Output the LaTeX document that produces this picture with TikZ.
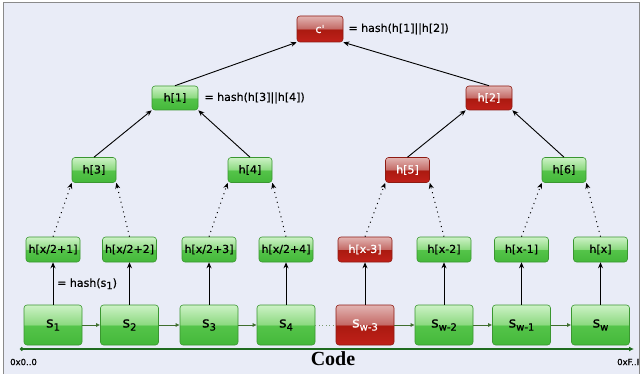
\documentclass[tikz,border=0pt]{standalone}
\usepackage{fontspec}
\setmainfont{DejaVu Sans}[FakeBold=0.6]
\newfontfamily\plainfont{DejaVu Sans}[FakeBold=0.6, Ligatures=TeXOff]
\newfontfamily\codefont{Liberation Serif}
\usetikzlibrary{arrows.meta}
\definecolor{bgcol}{HTML}{E9ECF7}
\definecolor{framecol}{HTML}{8A8A8A}
\definecolor{gbot}{HTML}{44B83A}
\definecolor{gmid}{HTML}{55C44A}
\definecolor{gtoplow}{HTML}{8CD980}
\definecolor{gtop}{HTML}{CDF2C6}
\definecolor{gborder}{HTML}{3A9630}
\definecolor{rbot}{HTML}{C0201A}
\definecolor{rmid}{HTML}{AA1A10}
\definecolor{rtoplow}{HTML}{C46A66}
\definecolor{rtop}{HTML}{E2B4B2}
\definecolor{rborder}{HTML}{8E1A12}
\definecolor{axiscol}{HTML}{1F6B1F}
\definecolor{chaincol}{HTML}{3F6E2E}
\pgfdeclareverticalshading{gglossy}{100bp}{color(0bp)=(gbot); color(25bp)=(gbot); color(49.5bp)=(gmid); color(50.5bp)=(gtoplow); color(75bp)=(gtop); color(100bp)=(gtop)}
\pgfdeclareverticalshading{rglossy}{100bp}{color(0bp)=(rbot); color(25bp)=(rbot); color(49.5bp)=(rmid); color(50.5bp)=(rtoplow); color(75bp)=(rtop); color(100bp)=(rtop)}
\newcommand{\lowsub}[1]{\raisebox{-0.4ex}{\fontsize{10}{10}\selectfont #1}}
\tikzset{
  box/.style={rounded corners=3pt, line width=0.6pt, inner sep=0pt, font=\fontsize{11}{12}\selectfont},
  gbox/.style={box, shading=gglossy, draw=gborder, text=black},
  rbox/.style={box, shading=rglossy, draw=rborder, text=white},
  topsize/.style={minimum width=46pt, minimum height=26pt},
  midsize/.style={minimum width=46pt, minimum height=24pt},
  l3size/.style={minimum width=44pt, minimum height=25pt},
  leafsize/.style={minimum width=54pt, minimum height=25pt},
  ssize/.style={minimum width=58pt, minimum height=40pt, font=\fontsize{14.5}{15}\selectfont},
  arr/.style={line width=0.9pt, -{Stealth[length=6pt,width=5pt]}},
  darr/.style={line width=1pt, dash pattern=on 1pt off 4pt, -{Stealth[length=6pt,width=5pt]}},
  chain/.style={line width=0.7pt, draw=chaincol, -{Latex[length=4pt,width=4pt]}},
  dchain/.style={line width=0.6pt, draw=chaincol!70, dash pattern=on 1pt off 2.5pt},
  lbl/.style={anchor=west, inner sep=0pt, font=\fontsize{11}{12}\selectfont},
  hexlbl/.style={inner sep=0pt, font=\fontsize{8.5}{9}\selectfont}
}
\begin{document}
\begin{tikzpicture}[x=1pt,y=-1pt]
\useasboundingbox (0,0) rectangle (642,374);
\fill[white] (0,0) rectangle (642,374);
\filldraw[fill=bgcol, draw=framecol, line width=1pt] (3,3) rectangle (639,390);
\clip (3.5,3.5) rectangle (638.5,374);
% root
\node[rbox, topsize] (c) at (320,29) {\plainfont c'};
\node[lbl] (lc) at ([xshift=5pt]c.east) {= hash(h[1]||h[2])};
% level 2
\node[gbox, midsize] (h1) at (175,98) {h[1]};
\node[rbox, midsize] (h2) at (489,98) {h[2]};
\node[lbl] (lh1) at ([xshift=6pt]h1.east) {= hash(h[3]||h[4])};
% level 3
\node[gbox, l3size] (h3) at (94,170) {h[3]};
\node[gbox, l3size] (h4) at (250,170) {h[4]};
\node[rbox, l3size] (h5) at (407.5,170) {h[5]};
\node[gbox, l3size] (h6) at (564,170) {h[6]};
% leaves
\node[gbox, leafsize] (l1) at (53,249.5) {h[x/2+1]};
\node[gbox, leafsize] (l2) at (129.5,249.5) {h[x/2+2]};
\node[gbox, leafsize] (l3) at (209,249.5) {h[x/2+3]};
\node[gbox, leafsize] (l4) at (286,249.5) {h[x/2+4]};
\node[rbox, leafsize] (l5) at (365,249.5) {h[x-3]};
\node[gbox, leafsize] (l6) at (444,249.5) {h[x-2]};
\node[gbox, leafsize] (l7) at (521.5,249.5) {h[x-1]};
\node[gbox, leafsize] (l8) at (600.5,249.5) {h[x]};
% code blocks
\node[gbox, ssize] (s1) at (53,325) {s\lowsub{1}};
\node[gbox, ssize] (s2) at (129.5,325) {s\lowsub{2}};
\node[gbox, ssize] (s3) at (209,325) {s\lowsub{3}};
\node[gbox, ssize] (s4) at (286,325) {s\lowsub{4}};
\node[rbox, ssize] (s5) at (365,325) {s\lowsub{w-3}};
\node[gbox, ssize] (s6) at (444,325) {s\lowsub{w-2}};
\node[gbox, ssize] (s7) at (521.5,325) {s\lowsub{w-1}};
\node[gbox, ssize] (s8) at (600.5,325) {s\lowsub{w}};
% tree arrows
\draw[arr] (h1.north) -- (c.south west);
\draw[arr] (h2.north) -- (c.south east);
\draw[arr] (h3.north) -- (h1.south west);
\draw[arr] (h4.north) -- (h1.south east);
\draw[arr] (h5.north) -- (h2.south west);
\draw[arr] (h6.north) -- (h2.south east);
\draw[darr] (l1.north) -- (h3.south west);
\draw[darr] (l2.north) -- (h3.south east);
\draw[darr] (l3.north) -- (h4.south west);
\draw[darr] (l4.north) -- (h4.south east);
\draw[darr] (l5.north) -- (h5.south west);
\draw[darr] (l6.north) -- (h5.south east);
\draw[darr] (l7.north) -- (h6.south west);
\draw[darr] (l8.north) -- (h6.south east);
\foreach \i in {1,...,8} {\draw[arr] (s\i.north) -- (l\i.south);}
\node[lbl] (ls) at ([xshift=4pt,yshift=-21.5pt]l1.south) {= hash(s\lowsub{1})};
% chain
\draw[chain] (s1.east) -- (s2.west);
\draw[chain] (s2.east) -- (s3.west);
\draw[chain] (s3.east) -- (s4.west);
\draw[dchain] (s4.east) -- (s5.west);
\draw[chain] (s5.east) -- (s6.west);
\draw[chain] (s6.east) -- (s7.west);
\draw[chain] (s7.east) -- (s8.west);
% axis
\coordinate (axL) at (20,349);
\coordinate (axR) at (634,349);
\draw[draw=axiscol, line width=1.8pt, {Circle[length=3.5pt]}-{Latex[length=5pt,width=5pt]}] (axL) -- (axR);
\node[hexlbl, anchor=west] (lo) at (10,362) {0x0..0};
\node[hexlbl, anchor=west] (hi) at (617,362) {0xF..F};
\node[inner sep=0pt, font=\codefont\bfseries\fontsize{20}{20}\selectfont] (code) at (333,359) {Code};
\end{tikzpicture}
\end{document}
